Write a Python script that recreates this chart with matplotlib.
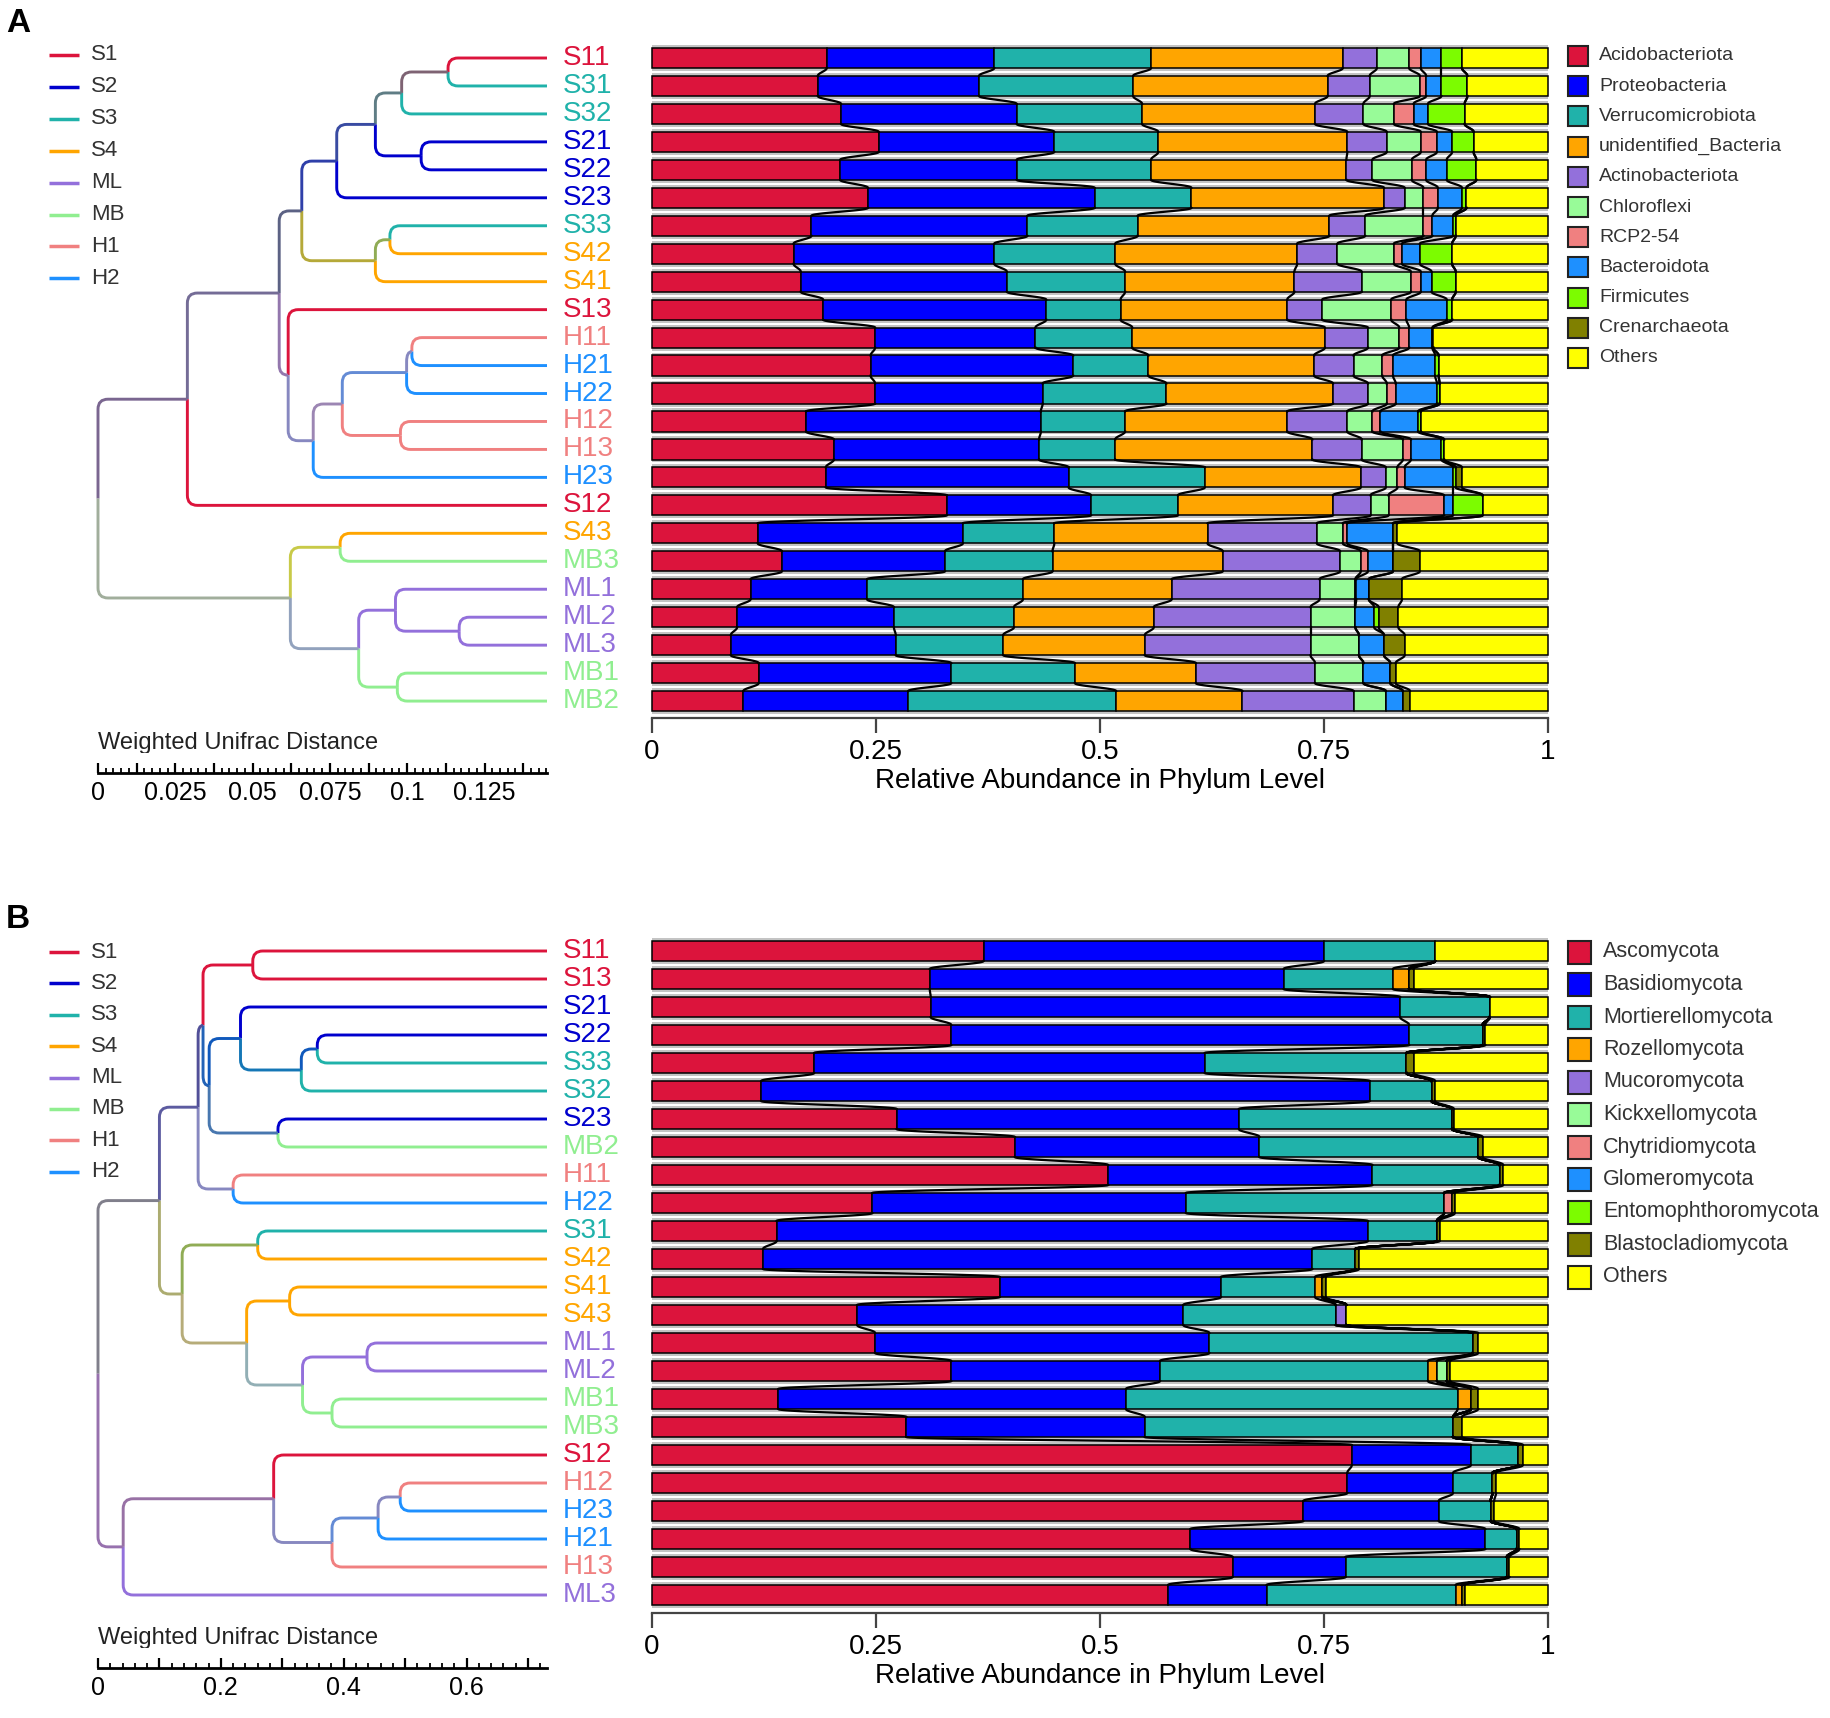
import numpy as np
import matplotlib
matplotlib.use("Agg")
import matplotlib.pyplot as plt
from matplotlib.path import Path
from matplotlib.patches import PathPatch, Rectangle
from matplotlib.transforms import offset_copy
from matplotlib.colors import to_rgb

plt.rcParams['font.family'] = ['Liberation Sans', 'DejaVu Sans']

W, H = 1831, 1718

groups = ['S1', 'S2', 'S3', 'S4', 'ML', 'MB', 'H1', 'H2']
group_colors = ['#DC143C', '#0000CD', '#20B2AA', '#FFA500', '#9370DB', '#90EE90', '#F08080', '#1E90FF']
phylum_colors = ['#DC143C', '#0000FF', '#20B2AA', '#FFA500', '#9370DB', '#98FB98',
                 '#F08080', '#1E90FF', '#7CFC00', '#808000', '#FFFF00']

# ---------------- panel A : bacteria ----------------
samples_a = ['S11', 'S31', 'S32', 'S21', 'S22', 'S23', 'S33', 'S42', 'S41', 'S13', 'H11', 'H21',
             'H22', 'H12', 'H13', 'H23', 'S12', 'S43', 'MB3', 'ML1', 'ML2', 'ML3', 'MB1', 'MB2']
phyla_a = ['Acidobacteriota', 'Proteobacteria', 'Verrucomicrobiota', 'unidentified_Bacteria',
           'Actinobacteriota', 'Chloroflexi', 'RCP2-54', 'Bacteroidota', 'Firmicutes',
           'Crenarchaeota', 'Others']
acidobacteriota = [0.195, 0.185, 0.211, 0.253, 0.210, 0.241, 0.178, 0.158, 0.166, 0.191, 0.249, 0.244,
                   0.249, 0.172, 0.203, 0.194, 0.329, 0.118, 0.145, 0.110, 0.095, 0.088, 0.119, 0.102]
proteobacteria = [0.187, 0.180, 0.196, 0.196, 0.197, 0.253, 0.241, 0.224, 0.230, 0.249, 0.179, 0.226,
                  0.187, 0.262, 0.229, 0.271, 0.161, 0.229, 0.182, 0.130, 0.175, 0.184, 0.215, 0.184]
verrucomicrobiota = [0.175, 0.172, 0.140, 0.116, 0.150, 0.108, 0.123, 0.135, 0.132, 0.083, 0.108, 0.084,
                     0.138, 0.094, 0.085, 0.152, 0.097, 0.102, 0.120, 0.174, 0.134, 0.120, 0.138, 0.232]
unidentified_bacteria = [0.214, 0.217, 0.193, 0.211, 0.218, 0.215, 0.214, 0.203, 0.189, 0.186, 0.215, 0.185,
                         0.186, 0.181, 0.220, 0.174, 0.173, 0.171, 0.190, 0.166, 0.156, 0.158, 0.135, 0.141]
actinobacteriota = [0.038, 0.047, 0.054, 0.044, 0.029, 0.023, 0.040, 0.045, 0.075, 0.039, 0.048, 0.044,
                    0.039, 0.067, 0.055, 0.028, 0.042, 0.122, 0.131, 0.165, 0.175, 0.185, 0.133, 0.124]
chloroflexi = [0.036, 0.056, 0.034, 0.038, 0.044, 0.021, 0.065, 0.063, 0.055, 0.077, 0.035, 0.032,
               0.021, 0.028, 0.046, 0.013, 0.020, 0.029, 0.023, 0.040, 0.050, 0.054, 0.054, 0.036]
rcp2_54 = [0.013, 0.007, 0.022, 0.018, 0.016, 0.016, 0.010, 0.009, 0.011, 0.017, 0.011, 0.012,
           0.010, 0.009, 0.009, 0.008, 0.062, 0.005, 0.008, 0.001, 0.000, 0.000, 0.000, 0.000]
bacteroidota = [0.023, 0.017, 0.016, 0.017, 0.023, 0.027, 0.023, 0.020, 0.012, 0.045, 0.026, 0.047,
                0.046, 0.042, 0.034, 0.054, 0.010, 0.051, 0.028, 0.014, 0.021, 0.028, 0.030, 0.019]
firmicutes = [0.023, 0.029, 0.041, 0.024, 0.033, 0.005, 0.003, 0.036, 0.027, 0.006, 0.001, 0.004,
              0.003, 0.003, 0.003, 0.003, 0.033, 0.000, 0.000, 0.000, 0.005, 0.000, 0.000, 0.000]
crenarchaeota = [0.000, 0.000, 0.000, 0.000, 0.000, 0.000, 0.000, 0.000, 0.000, 0.000, 0.000, 0.000,
                 0.000, 0.000, 0.000, 0.007, 0.000, 0.005, 0.030, 0.037, 0.022, 0.023, 0.006, 0.008]
others_a = [0.096, 0.090, 0.093, 0.083, 0.080, 0.091, 0.103, 0.107, 0.103, 0.107, 0.128, 0.122,
            0.121, 0.142, 0.116, 0.096, 0.073, 0.168, 0.143, 0.163, 0.167, 0.160, 0.170, 0.154]

# tree as (node distance, child, child)
tree_a = (0.0,
          (0.0289,
           (0.0586,
            (0.0659,
             (0.0772,
              (0.0897, (0.0982, (0.1132, 'S11', 'S31'), 'S32'), (0.1045, 'S21', 'S22')),
              'S23'),
             (0.0897, (0.0944, 'S33', 'S42'), 'S41')),
            (0.0615, 'S13',
             (0.0696,
              (0.0790, (0.0998, (0.1015, 'H11', 'H21'), 'H22'), (0.0978, 'H12', 'H13')),
              'H23'))),
           'S12'),
          (0.0622,
           (0.0783, 'S43', 'MB3'),
           (0.0843, (0.0962, 'ML1', (0.1168, 'ML2', 'ML3')), (0.0968, 'MB1', 'MB2'))))
dist_max_a = 0.1452

# ---------------- panel B : fungi ----------------
samples_b = ['S11', 'S13', 'S21', 'S22', 'S33', 'S32', 'S23', 'MB2', 'H11', 'H22', 'S31', 'S42',
             'S41', 'S43', 'ML1', 'ML2', 'MB1', 'MB3', 'S12', 'H12', 'H23', 'H21', 'H13', 'ML3']
phyla_b = ['Ascomycota', 'Basidiomycota', 'Mortierellomycota', 'Rozellomycota', 'Mucoromycota',
           'Kickxellomycota', 'Chytridiomycota', 'Glomeromycota', 'Entomophthoromycota',
           'Blastocladiomycota', 'Others']
ascomycota = [0.370, 0.310, 0.311, 0.334, 0.181, 0.122, 0.273, 0.405, 0.509, 0.246, 0.139, 0.124,
              0.388, 0.229, 0.249, 0.334, 0.141, 0.284, 0.781, 0.776, 0.727, 0.601, 0.648, 0.576]
basidiomycota = [0.380, 0.395, 0.524, 0.511, 0.436, 0.679, 0.382, 0.273, 0.295, 0.350, 0.660, 0.613,
                 0.247, 0.364, 0.373, 0.233, 0.388, 0.266, 0.133, 0.118, 0.151, 0.329, 0.126, 0.110]
mortierellomycota = [0.124, 0.122, 0.100, 0.082, 0.225, 0.069, 0.238, 0.244, 0.142, 0.288, 0.077, 0.048,
                     0.105, 0.170, 0.294, 0.299, 0.370, 0.344, 0.053, 0.044, 0.058, 0.035, 0.180, 0.211]
rozellomycota = [0.000, 0.018, 0.000, 0.000, 0.000, 0.000, 0.000, 0.000, 0.000, 0.000, 0.000, 0.000,
                 0.008, 0.000, 0.000, 0.010, 0.015, 0.000, 0.000, 0.000, 0.000, 0.000, 0.000, 0.007]
mucoromycota = [0.000, 0.000, 0.000, 0.000, 0.000, 0.000, 0.000, 0.000, 0.000, 0.000, 0.000, 0.000,
                0.000, 0.012, 0.000, 0.000, 0.000, 0.000, 0.000, 0.000, 0.000, 0.000, 0.000, 0.000]
kickxellomycota = [0.000, 0.000, 0.000, 0.000, 0.000, 0.000, 0.000, 0.000, 0.000, 0.000, 0.000, 0.000,
                   0.000, 0.000, 0.000, 0.011, 0.000, 0.000, 0.000, 0.000, 0.000, 0.000, 0.000, 0.000]
chytridiomycota = [0.000, 0.000, 0.000, 0.000, 0.000, 0.000, 0.000, 0.000, 0.000, 0.009, 0.000, 0.000,
                   0.000, 0.000, 0.000, 0.000, 0.000, 0.000, 0.000, 0.000, 0.000, 0.000, 0.000, 0.000]
glomeromycota = [0.000, 0.000, 0.000, 0.000, 0.000, 0.000, 0.000, 0.000, 0.000, 0.000, 0.000, 0.000,
                 0.000, 0.000, 0.000, 0.000, 0.000, 0.000, 0.000, 0.000, 0.000, 0.000, 0.000, 0.000]
entomophthoromycota = [0.000, 0.000, 0.000, 0.000, 0.000, 0.000, 0.000, 0.000, 0.000, 0.000, 0.000, 0.000,
                       0.000, 0.000, 0.000, 0.000, 0.000, 0.000, 0.000, 0.000, 0.000, 0.000, 0.000, 0.000]
blastocladiomycota = [0.000, 0.005, 0.000, 0.003, 0.008, 0.004, 0.002, 0.005, 0.004, 0.003, 0.003, 0.004,
                      0.004, 0.000, 0.006, 0.004, 0.008, 0.010, 0.005, 0.004, 0.004, 0.003, 0.003, 0.003]
others_b = [0.126, 0.150, 0.065, 0.070, 0.150, 0.126, 0.105, 0.073, 0.050, 0.104, 0.121, 0.211,
            0.248, 0.225, 0.078, 0.109, 0.078, 0.096, 0.028, 0.058, 0.060, 0.032, 0.043, 0.093]

tree_b = (0.0,
          (0.100,
           (0.163,
            (0.171,
             (0.252, 'S11', 'S13'),
             (0.181,
              (0.232, 'S21', (0.331, (0.357, 'S22', 'S33'), 'S32')),
              (0.293, 'S23', 'MB2'))),
            (0.220, 'H11', 'H22')),
           (0.137,
            (0.260, 'S31', 'S42'),
            (0.242, (0.312, 'S41', 'S43'),
             (0.333, (0.438, 'ML1', 'ML2'), (0.381, 'MB1', 'MB3'))))),
          (0.041,
           (0.286, 'S12', (0.381, (0.456, (0.492, 'H12', 'H23'), 'H21'), 'H13')),
           'ML3'))
dist_max_b = 0.731

gcol = dict(zip(groups, group_colors))

fig = plt.figure(figsize=(W / 100, H / 100), dpi=100)


def px_axes(x0, y0, x1, y1):
    return fig.add_axes([x0 / W, 1 - y1 / H, (x1 - x0) / W, (y1 - y0) / H])


ov = fig.add_axes([0, 0, 1, 1])
ov.set_xlim(0, W)
ov.set_ylim(H, 0)
ov.axis('off')


def elbow(ax, px, py, cx, cy, color, rx, ry):
    s = 1 if cy > py else -1
    r_y = min(ry, abs(cy - py))
    r_x = min(rx, cx - px)
    verts = [(px, py), (px, cy - s * r_y), (px, cy), (px + r_x, cy), (cx, cy)]
    codes = [Path.MOVETO, Path.LINETO, Path.CURVE3, Path.CURVE3, Path.LINETO]
    ax.add_patch(PathPatch(Path(verts, codes), fill=False, edgecolor=color, lw=2.1,
                           capstyle='butt', clip_on=False))


def draw_tree(ax, node, ypos, xmax, rx, ry):
    # returns x, y, summed leaf rgb, leaf count
    if isinstance(node, str):
        return xmax, ypos[node], np.array(to_rgb(gcol[node[:-1]])), 1
    h, left, right = node
    kids = [draw_tree(ax, k, ypos, xmax, rx, ry) for k in (left, right)]
    y = np.mean([k[1] for k in kids])
    for cx, cy, csum, cn in kids:
        elbow(ax, h, y, cx, cy, tuple(csum / cn), rx, ry)
    return h, y, kids[0][2] + kids[1][2], kids[0][3] + kids[1][3]


def panel(top, first, step, bottom, samples, tree, xmax, series, phyla, letter,
          major, minor, label_step, legend_y0, legend_step, leg_box, leg_font, leg_text_x, key_y0, key_step):
    n = len(samples)
    ylim = ((bottom - first) / step, -(first - top) / step)

    # dendrogram
    axd = px_axes(98, top, 547, bottom)
    axd.set_xlim(0, xmax)
    axd.set_ylim(*ylim)
    axd.axis('off')
    ypos = {s: i for i, s in enumerate(samples)}
    draw_tree(axd, tree, ypos, xmax, 10 * xmax / 449, 10 / step)
    tr = offset_copy(axd.transData, fig=fig, x=11, y=0, units='points')
    for s in samples:
        axd.text(xmax, ypos[s], s, transform=tr, ha='left', va='center', fontsize=20,
                 color=gcol[s[:-1]], clip_on=False)

    # distance scale
    axs = px_axes(98, bottom + 35, 547, bottom + 55)
    axs.set_xlim(0, xmax)
    for side in ['top', 'left', 'right']:
        axs.spines[side].set_visible(False)
    axs.spines['bottom'].set_linewidth(2)
    axs.set_yticks([])
    maj = np.arange(0, xmax + 1e-9, major)
    axs.set_xticks(maj)
    axs.set_xticks(np.arange(0, xmax + 1e-9, minor), minor=True)
    labs = []
    for v in maj:
        q = v / label_step
        labs.append(f'{round(v, 4):g}' if abs(q - round(q)) < 1e-6 else '')
    axs.set_xticklabels(labs)
    axs.tick_params(axis='x', which='major', direction='in', length=7, width=1.6, labelsize=18, pad=6)
    axs.tick_params(axis='x', which='minor', direction='in', length=3.8, width=1.3)
    ov.text(98, bottom + 25, 'Weighted Unifrac Distance', fontsize=17, ha='left', va='center', color='#222222')

    # stacked bars
    axb = px_axes(652, top, 1548, bottom)
    axb.set_xlim(0, 1)
    axb.set_ylim(*ylim)
    vals = np.array(series)
    cum = np.vstack([np.zeros(n), np.cumsum(vals, axis=0)])
    y = np.arange(n)
    for i in y:
        axb.add_patch(Rectangle((0, i - 0.465), 1, 0.93, facecolor='#c4c4c4', edgecolor='none',
                                zorder=1, clip_on=False))
    for k in range(len(vals)):
        bars = axb.barh(y, vals[k], left=cum[k], height=0.72, color=phylum_colors[k],
                        edgecolor='black', linewidth=1.1, zorder=2)
        for b in bars:
            b.set_clip_on(False)
    t = np.linspace(0, 1, 40)
    sm = (1 - np.cos(np.pi * t)) / 2
    for i in range(n - 1):
        for k in range(1, len(vals)):
            x0, x1 = cum[k][i], cum[k][i + 1]
            axb.plot(x0 + (x1 - x0) * sm, i + 0.36 + 0.28 * t, color='black', lw=1.6, zorder=3)
    for side in ['top', 'left', 'right']:
        axb.spines[side].set_visible(False)
    axb.spines['bottom'].set_linewidth(1.6)
    axb.spines['bottom'].set_color('#444444')
    axb.set_yticks([])
    axb.set_xticks([0, 0.25, 0.5, 0.75, 1])
    axb.set_xticklabels(['0', '0.25', '0.5', '0.75', '1'])
    axb.tick_params(axis='x', length=11, width=1.6, labelsize=20, pad=4, color='#444444')
    ov.text(1100, bottom + 63, 'Relative Abundance in Phylum Level', fontsize=20, ha='center', va='center')

    # panel letter and group key
    ov.text(6, top - 16, letter, fontsize=24, fontweight='bold', ha='left', va='center')
    for k, g in enumerate(groups):
        yy = key_y0 + k * key_step
        ov.plot([49, 79], [yy, yy], color=group_colors[k], lw=2.5, solid_capstyle='butt')
        ov.text(91, yy, g, fontsize=16, ha='left', va='center', color='#333333')

    # phylum legend
    for k, p in enumerate(phyla):
        yy = legend_y0 + k * legend_step
        ov.add_patch(Rectangle((1568, yy - leg_box / 2), leg_box, leg_box, facecolor=phylum_colors[k],
                               edgecolor='#222222', lw=1.5))
        ov.text(leg_text_x, yy, p, fontsize=leg_font, ha='left', va='center', color='#333333')


panel(40, 58, 27.96, 718, samples_a, tree_a, dist_max_a,
      [acidobacteriota, proteobacteria, verrucomicrobiota, unidentified_bacteria, actinobacteriota,
       chloroflexi, rcp2_54, bacteroidota, firmicutes, crenarchaeota, others_a],
      phyla_a, 'A', 0.0125, 0.0025, 0.025, 56, 30.2, 20, 14, 1599, 55, 31.9)

panel(935, 951, 28.0, 1613, samples_b, tree_b, dist_max_b,
      [ascomycota, basidiomycota, mortierellomycota, rozellomycota, mucoromycota, kickxellomycota,
       chytridiomycota, glomeromycota, entomophthoromycota, blastocladiomycota, others_b],
      phyla_b, 'B', 0.1, 0.02, 0.2, 952, 32.5, 23, 15.5, 1603, 952, 31.4)

fig.savefig('out.png', dpi=100)
